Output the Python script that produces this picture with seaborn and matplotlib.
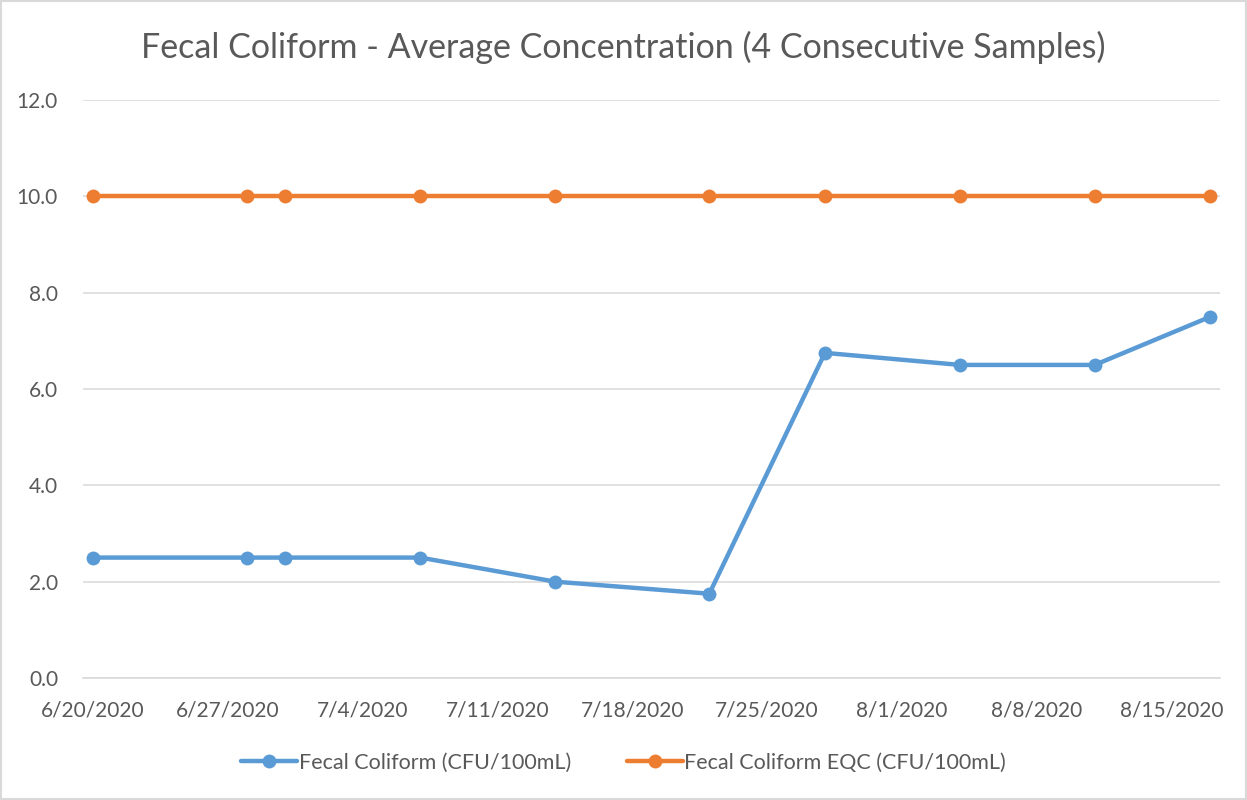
import pandas as pd
import matplotlib.pyplot as plt
import matplotlib.transforms as mtransforms
import seaborn as sns

# ── DATA ──────────────────────────────────────────────────
SAMPLE_DATES = ["2020-06-20", "2020-06-28", "2020-06-30", "2020-07-07", "2020-07-14",
                "2020-07-22", "2020-07-28", "2020-08-04", "2020-08-11", "2020-08-17"]
FECAL_AVG = [2.5, 2.5, 2.5, 2.5, 2.0, 1.75, 6.75, 6.5, 6.5, 7.5]
FECAL_EQC = [10.0, 10.0, 10.0, 10.0, 10.0, 10.0, 10.0, 10.0, 10.0, 10.0]
SERIES_NAMES = ["Fecal Coliform (CFU/100mL)", "Fecal Coliform EQC (CFU/100mL)"]
Y_TICKS = [0, 2, 4, 6, 8, 10, 12]
TITLE = "Fecal Coliform - Average Concentration (4 Consecutive Samples)"

BLUE = "#5B9BD5"
ORANGE = "#ED7D31"
GREY_TEXT = "#595959"
GRID = "#D9D9D9"

sns.set_theme(style="white")
plt.rcParams["font.family"] = ["Lato", "DejaVu Sans"]

dates = pd.to_datetime(SAMPLE_DATES)
df = pd.concat([
    pd.DataFrame({"date": dates, "value": FECAL_AVG, "series": SERIES_NAMES[0]}),
    pd.DataFrame({"date": dates, "value": FECAL_EQC, "series": SERIES_NAMES[1]}),
])
# Excel date axis: points sit in the middle of their day
df["date"] = df["date"] + pd.Timedelta(hours=12)

fig = plt.figure(figsize=(12.47, 8), dpi=100)
ax = fig.add_axes([83 / 1247, 1 - 678 / 800, (1220 - 83) / 1247, (678 - 100) / 800])

sns.lineplot(data=df, x="date", y="value", hue="series",
             palette={SERIES_NAMES[0]: BLUE, SERIES_NAMES[1]: ORANGE},
             marker="o", markersize=10, markeredgewidth=0,
             linewidth=3.2, ax=ax, zorder=3)

ax.set_xlim(pd.Timestamp("2020-06-20"), pd.Timestamp("2020-08-18"))
ax.set_ylim(0, 12)
ax.set_yticks(Y_TICKS)
ax.set_yticklabels([f"{v:.1f}" for v in Y_TICKS])
ticks = pd.date_range("2020-06-20", "2020-08-15", freq="7D")
ax.set_xticks(ticks)
ax.set_xticklabels([f"{d.month}/{d.day}/{d.year}" for d in ticks])

ax.grid(True, axis="y", color=GRID, linewidth=1.1)
ax.grid(False, axis="x")
for side in ["top", "right", "left"]:
    ax.spines[side].set_visible(False)
ax.spines["bottom"].set_color(GRID)
ax.spines["bottom"].set_linewidth(1.1)
ax.tick_params(axis="x", colors=GRID, direction="out", length=5, width=1.1,
               labelcolor=GREY_TEXT, labelsize=15, pad=11)
ax.tick_params(axis="y", length=0, labelcolor=GREY_TEXT, labelsize=15, pad=18)
ax.set_xlabel("")
ax.set_ylabel("")

# labels sit in the middle of the day, ticks on the day boundary
shift = mtransforms.ScaledTranslation(9.6 / 100, 0, fig.dpi_scale_trans)
for lbl in ax.get_xticklabels():
    lbl.set_transform(lbl.get_transform() + shift)

fig.suptitle(TITLE, x=0.5, y=1 - 47 / 800, va="center",
             fontsize=24.5, color=GREY_TEXT)

handles, labels = ax.get_legend_handles_labels()
ax.legend(handles, labels, loc="center", bbox_to_anchor=(0.5, (800 - 763) / 800),
          bbox_transform=fig.transFigure, ncol=2, frameon=False,
          fontsize=15.5, labelcolor=GREY_TEXT, handlelength=2.6,
          handletextpad=0.05, columnspacing=2.6)

fig.patches.append(plt.Rectangle((0.0005, 0.0008), 0.999, 0.998, transform=fig.transFigure,
                                 fill=False, edgecolor=GRID, linewidth=1.5))

fig.savefig("out.png", dpi=100, facecolor="white")
